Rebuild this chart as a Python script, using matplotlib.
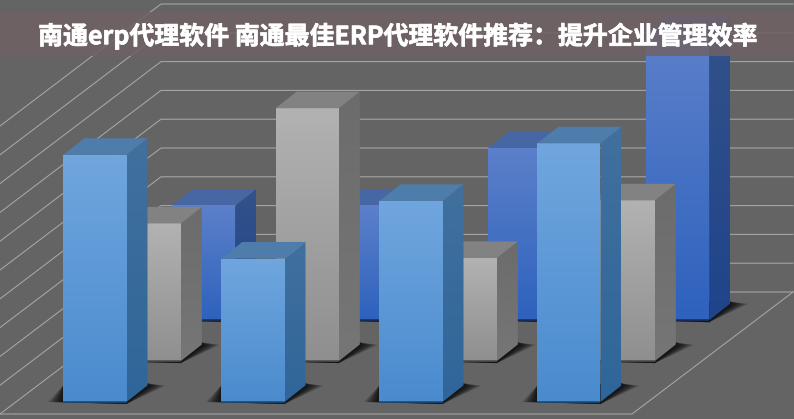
#!/usr/bin/env python3
import matplotlib
matplotlib.use('Agg')
import matplotlib.pyplot as plt
import numpy as np
from matplotlib.colors import LinearSegmentedColormap
from matplotlib.patches import Polygon, Rectangle
import matplotlib.patheffects as pe

plt.rcParams['font.family'] = ['Noto Sans CJK SC', 'DejaVu Sans']

title = '南通erp代理软件 南通最佳ERP代理软件推荐：提升企业管理效率'
categories = [0, 1, 2, 3]
grid_values = [0, 1, 2, 3, 4, 5, 6, 7, 8, 9, 10]
light_values = [8.58, 4.98, 6.98, 8.98]
gray_values = [4.78, 8.78, 3.58, 5.58]
dark_values = [3.98, 3.98, 5.98, 9.98]

# chart geometry, in category / value units
px_x = 158.0
px_y = 28.8
bar_w = 0.4
side_x = 21 / px_x
side_y = 16.6 / px_y
wall_x = 161 / px_x
wall_y = 122 / px_y
left = -63.3 / px_x
row_x = 54.35 / px_x
row_y = 40.9 / px_y

styles = {
    'light': dict(front=('#70a6de', '#4a8bce'), side=('#41709e', '#2f6699'), top='#4f7dab', base='#1d4a7a'),
    'gray': dict(front=('#b2b2b2', '#8f8f8f'), side=('#6c6c6c', '#767676'), top='#828282', base='#4d4d4d'),
    'dark': dict(front=('#5c80ca', '#2e62bd'), side=('#33528a', '#20448a'), top='#4666a4', base='#1a3060'),
}

fig = plt.figure(figsize=(7.94, 4.19), dpi=100, facecolor='#646464')
ax = fig.add_axes([0, 0, 1, 1])
ax.set_facecolor('#646464')
ax.axis('off')
xlim = (left, left + 794 / px_x)
ylim = (-127 / px_y, 292 / px_y)

# walls
front_x = left
back_x = left + wall_x
for v in grid_values:
    ax.plot([front_x, back_x, xlim[1] - 1 / px_x], [v - wall_y, v, v], color='#a8a8a8', lw=0.75, zorder=1)
floor_y = -wall_y
ax.plot([front_x, 632 / px_x + left, xlim[1] - 1 / px_x], [floor_y, floor_y, 0], color='#a8a8a8', lw=0.75, zorder=1)


def gradient(poly, top, bottom, z, y0, y1):
    cmap = LinearSegmentedColormap.from_list('g', [top, bottom])
    xs = [p[0] for p in poly]
    im = ax.imshow(np.linspace(0, 1, 64).reshape(-1, 1), cmap=cmap, aspect='auto', zorder=z,
                   extent=(min(xs), max(xs), y0, y1), origin='upper', interpolation='bilinear')
    clip = Polygon(poly, transform=ax.transData, fc='none', ec='none')
    ax.add_patch(clip)
    im.set_clip_path(clip)


def draw_bar(x, base, v, style, z):
    x1 = x + bar_w
    top = base + v
    # floor shadow, softened by stacking
    for grow in [18, 16, 14, 12, 10, 8, 6, 4, 2]:
        e = grow / px_x
        shadow = [(x - e * 0.85, base), (x1, base - 2 / px_y), (x1 + side_x + e, base + side_y * 0.98),
                  (x1 + side_x, base + side_y + 2 / px_y), (x, base + side_y)]
        ax.add_patch(Polygon(shadow, fc='black', ec='none', alpha=0.15, zorder=z))
    s = styles[style]
    front = [(x, base), (x1, base), (x1, top), (x, top)]
    side = [(x1, base), (x1 + side_x, base + side_y), (x1 + side_x, top + side_y), (x1, top)]
    cap = [(x, top), (x1, top), (x1 + side_x, top + side_y), (x + side_x, top + side_y)]
    gradient(side, s['side'][0], s['side'][1], z + 0.1, base, top + side_y)
    gradient(front, s['front'][0], s['front'][1], z + 0.2, base, top)
    ax.add_patch(Polygon(cap, fc=s['top'], ec='none', zorder=z + 0.3))
    ax.plot([x, x1], [base, base], color=s['base'], lw=1.2, zorder=z + 0.4, solid_capstyle='butt')


z = 2
for values, name, row in [(dark_values, 'dark', 2), (gray_values, 'gray', 1), (light_values, 'light', 0)]:
    for c, v in zip(categories, values):
        draw_bar(c + row * row_x, -wall_y + 12 / px_y + (row * row_y), v, name, z)
        z += 1

ax.set_xlim(*xlim)
ax.set_ylim(*ylim)

# title banner
ax.add_patch(Rectangle((0, 1 - 56 / 419), 1, 44 / 419, transform=ax.transAxes, fc='#706165', ec='none',
                       alpha=0.86, zorder=50))
ax.text(397 / 794, 1 - 36 / 419, title, transform=ax.transAxes, ha='center', va='center', color='white',
        fontsize=17.95, fontweight='bold', zorder=51,
        path_effects=[pe.withStroke(linewidth=0.5, foreground='white')])

fig.savefig('out.png', dpi=100, facecolor=fig.get_facecolor())
